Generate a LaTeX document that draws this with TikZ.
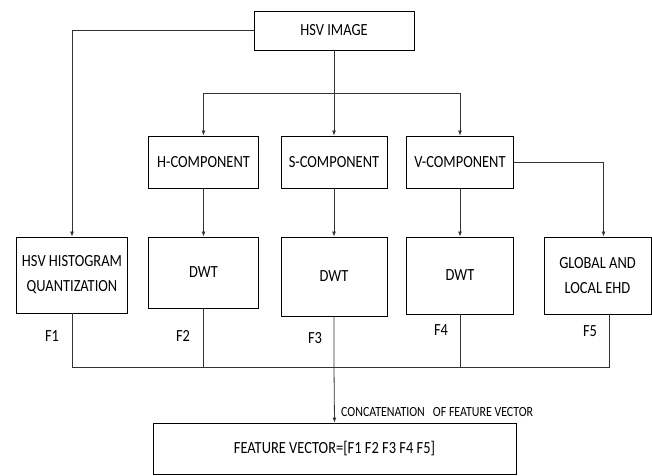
\documentclass[tikz,border=0pt]{standalone}
\usepackage{fontspec}
\setmainfont{Carlito}[FakeStretch=0.85]
\usetikzlibrary{arrows.meta}
\begin{document}
\begin{tikzpicture}[x=1pt,y=-1pt,
  box/.style={draw, line width=0.9pt, inner sep=0pt, align=center, font=\fontsize{17}{25}\selectfont},
  lbl/.style={inner sep=0pt, font=\fontsize{17}{19}\selectfont},
  link/.style={line width=0.8pt, draw=black!80},
  arr/.style={link, -{Latex[length=5pt,width=4pt]}}]
\useasboundingbox (0,0) rectangle (652,475);
\node[box, minimum width=160pt, minimum height=39pt] (hsv) at (334,30.5){HSV IMAGE};
\coordinate (branch) at (334,93);
\node[box, minimum width=110.5pt, minimum height=52pt] (hcomp) at (203.5,162){H-COMPONENT};
\node[box, minimum width=106pt, minimum height=52pt] (scomp) at (334,162){S-COMPONENT};
\node[box, minimum width=107.5pt, minimum height=52pt] (vcomp) at (460,162){V-COMPONENT};
\draw[link] (hsv.south) -- (branch);
\draw[arr] (branch) -| (hcomp.north);
\draw[arr] (branch) -- (scomp.north);
\draw[arr] (branch) -| (vcomp.north);
\node[box, minimum width=111.5pt, minimum height=76pt] (quant) at (72,275){HSV HISTOGRAM\\QUANTIZATION};
\node[box, minimum width=110.5pt, minimum height=71pt] (dwth) at (203.5,272.5){DWT};
\node[box, minimum width=106pt, minimum height=79pt] (dwts) at (334,276.5){DWT};
\node[box, minimum width=107.5pt, minimum height=77pt] (dwtv) at (460,275.5){DWT};
\node[box, minimum width=107pt, minimum height=77pt] (ehd) at (597.5,275.5){GLOBAL AND\\LOCAL EHD};
\draw[arr] (hsv.west) -| (quant.north);
\draw[arr] (hcomp.south) -- (dwth.north);
\draw[arr] (scomp.south) -- (dwts.north);
\draw[arr] (vcomp.south) -- (dwtv.north);
\draw[arr] (vcomp.east) -| ([xshift=6pt]ehd.north);
\node[lbl] (f1) at (52,336){F1};
\node[lbl] (f2) at (183,336){F2};
\node[lbl] (f3) at (315,338){F3};
\node[lbl] (f4) at (441,330){F4};
\node[lbl] (f5) at (590,331){F5};
\coordinate (bus) at (334,367);
\draw[link] (quant.south) |- (bus);
\draw[link] (dwth.south) |- (bus);
\draw[link] (dwtv.south) |- (bus);
\draw[link] ([xshift=11.5pt]ehd.south) |- (bus);
\node[box, minimum width=363pt, minimum height=51pt] (fv) at (334.5,448.5){FEATURE VECTOR=[F1 F2 F3 F4 F5]};
\draw[arr] (dwts.south) -- (bus) -- (fv.north);
\node[lbl, anchor=west, font=\fontsize{14}{16}\selectfont] (concat) at (341,412){CONCATENATION\ \ \ OF FEATURE VECTOR};
\end{tikzpicture}
\end{document}
